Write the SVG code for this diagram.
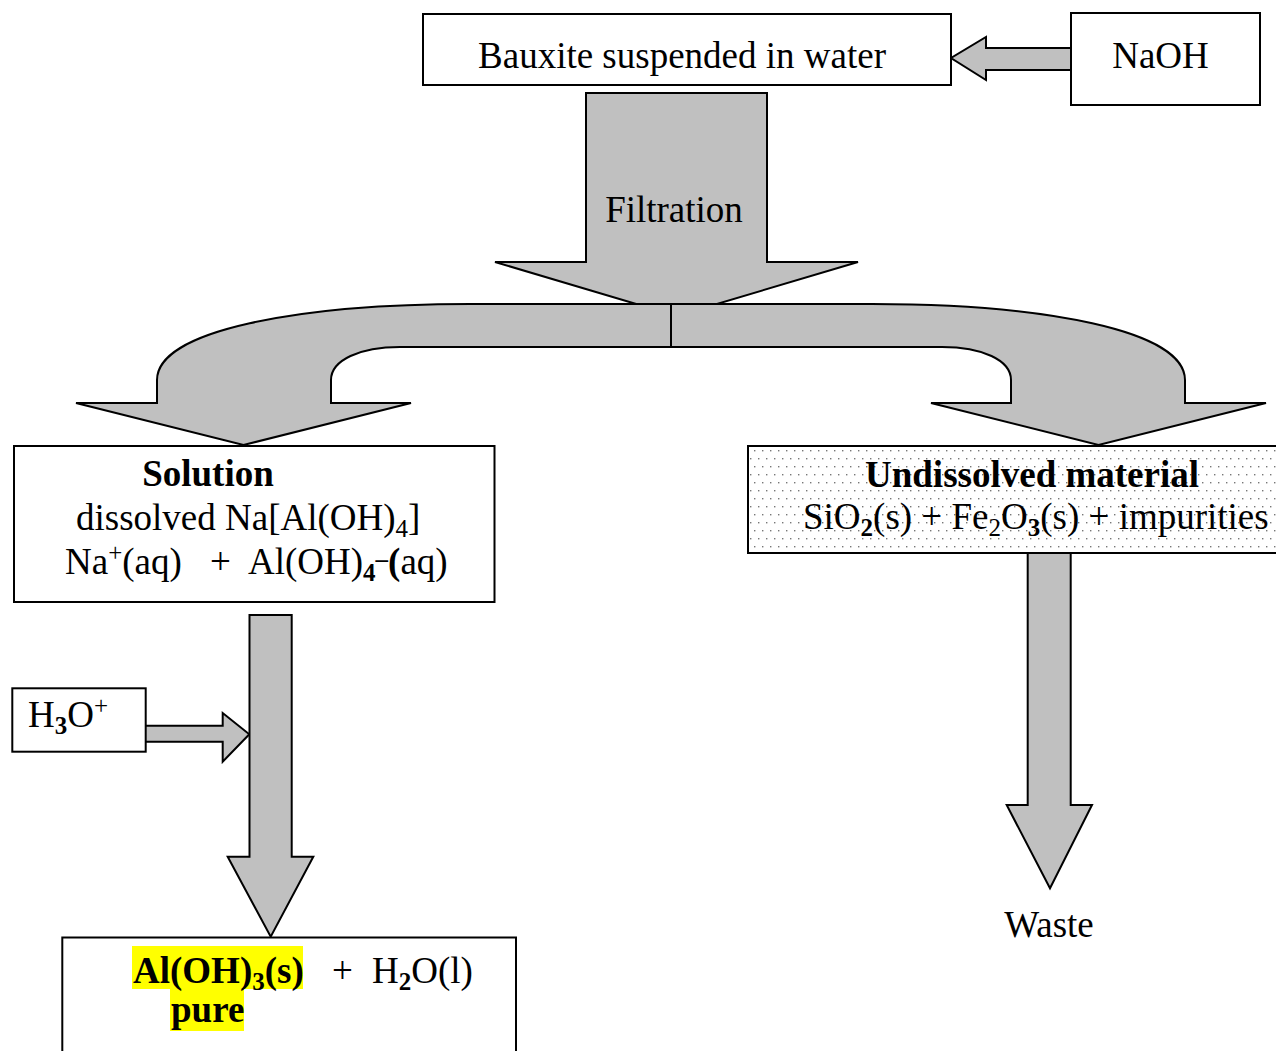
<svg xmlns="http://www.w3.org/2000/svg" width="1276" height="1051" viewBox="0 0 1276 1051">
<style>
.box{fill:#fff;stroke:#000;stroke-width:2}
.arr{fill:#c0c0c0;stroke:#000;stroke-width:2;stroke-linejoin:miter}
text{font-family:"Liberation Serif","Times New Roman",serif;font-size:37px;fill:#000}
.b{font-weight:bold}
.s{font-size:25px}
.hl{fill:#ffff00}
</style>
<defs>
<pattern id="dots" x="0" y="0" width="8" height="16" patternUnits="userSpaceOnUse">
<rect width="8" height="16" fill="#fff"/>
<rect x="2" y="2" width="1.4" height="1.4" fill="#777"/>
<rect x="6" y="10" width="1.4" height="1.4" fill="#777"/>
</pattern>
</defs>
<rect width="1276" height="1051" fill="#fff"/>

<g id="connectors">
<path class="arr" d="M1071,48 L986,48 L986,37 L951,58 L986,80 L986,70 L1071,70"/>
<path class="arr" d="M586,93 L767,93 L767,262 L858,262 L676.5,316 L495,262 L586,262 Z"/>
<path class="arr" d="M671,304 L470,304 C300,304 157,330 157,380 L157,403 L76,403 L243.5,445 L411,403 L331,403 L331,380 C331,360 360,347 400,347 L671,347 Z"/>
<path class="arr" d="M671,304 L872,304 C1042,304 1185,330 1185,380 L1185,403 L1266,403 L1098.5,445 L931,403 L1011,403 L1011,380 C1011,360 982,347 942,347 L671,347 Z"/>
<path class="arr" d="M145.7,725.7 L222.7,725.7 L222.7,713 L249.3,734.3 L222.7,761.7 L222.7,741.7 L145.7,741.7"/>
<path class="arr" d="M249.5,615 L291.7,615 L291.7,856.7 L313.3,856.7 L270.7,936.7 L227.7,856.7 L249.5,856.7 Z"/>
<path class="arr" d="M1027.7,553 L1070.7,553 L1070.7,805 L1092,805 L1050,888.3 L1006.7,805 L1027.7,805 Z"/>
</g>

<g id="bauxite">
<rect class="box" x="423" y="14" width="528" height="71"/>
<text x="682" y="68" text-anchor="middle">Bauxite suspended in water</text>
</g>

<g id="naoh">
<rect class="box" x="1071" y="13" width="189" height="92"/>
<text x="1160.5" y="68" text-anchor="middle">NaOH</text>
</g>

<g id="filtration">
<text x="674" y="222" text-anchor="middle">Filtration</text>
</g>

<g id="solution">
<rect class="box" x="14" y="446" width="480.5" height="156"/>
<text x="208" y="486" text-anchor="middle" class="b">Solution</text>
<text x="76" y="530">dissolved Na[Al(OH)<tspan class="s" dy="7">4</tspan><tspan dy="-7">]</tspan></text>
<text y="574"><tspan x="65">Na</tspan><tspan class="s" dy="-13">+</tspan><tspan dy="13">(aq)</tspan><tspan x="210">+</tspan><tspan x="248">Al(OH)</tspan><tspan class="s b" dy="7">4</tspan><tspan class="s b" dy="-14">–</tspan><tspan class="b" dy="7">(</tspan><tspan>aq)</tspan></text>
</g>

<g id="undissolved">
<rect x="748" y="446" width="540" height="107" fill="url(#dots)" stroke="#000" stroke-width="2"/>
<text x="1032" y="487" text-anchor="middle" class="b">Undissolved material</text>
<text y="529"><tspan x="803">SiO</tspan><tspan class="s b" dy="7">2</tspan><tspan dy="-7">(s) + Fe</tspan><tspan class="s" dy="7">2</tspan><tspan dy="-7">O</tspan><tspan class="s b" dy="7">3</tspan><tspan dy="-7">(s) + impurities</tspan></text>
</g>

<g id="h3o">
<rect class="box" x="12.3" y="688.3" width="133.4" height="63.4"/>
<text y="727"><tspan x="28">H</tspan><tspan class="s b" dy="7">3</tspan><tspan dy="-7">O</tspan><tspan class="s" dy="-13">+</tspan></text>
</g>

<g id="waste">
<text x="1049" y="937" text-anchor="middle">Waste</text>
</g>

<g id="product">
<rect class="box" x="62.3" y="937.5" width="453.7" height="200"/>
<rect class="hl" x="132" y="946" width="171" height="43"/>
<rect class="hl" x="170" y="989" width="74" height="42"/>
<text y="983"><tspan x="133" class="b">Al(OH)</tspan><tspan class="s b" dy="7">3</tspan><tspan class="b" dy="-7">(s)</tspan><tspan x="332">+</tspan><tspan x="372">H</tspan><tspan class="s b" dy="7">2</tspan><tspan dy="-7">O(l)</tspan></text>
<text x="171" y="1022" class="b">pure</text>
</g>
</svg>
